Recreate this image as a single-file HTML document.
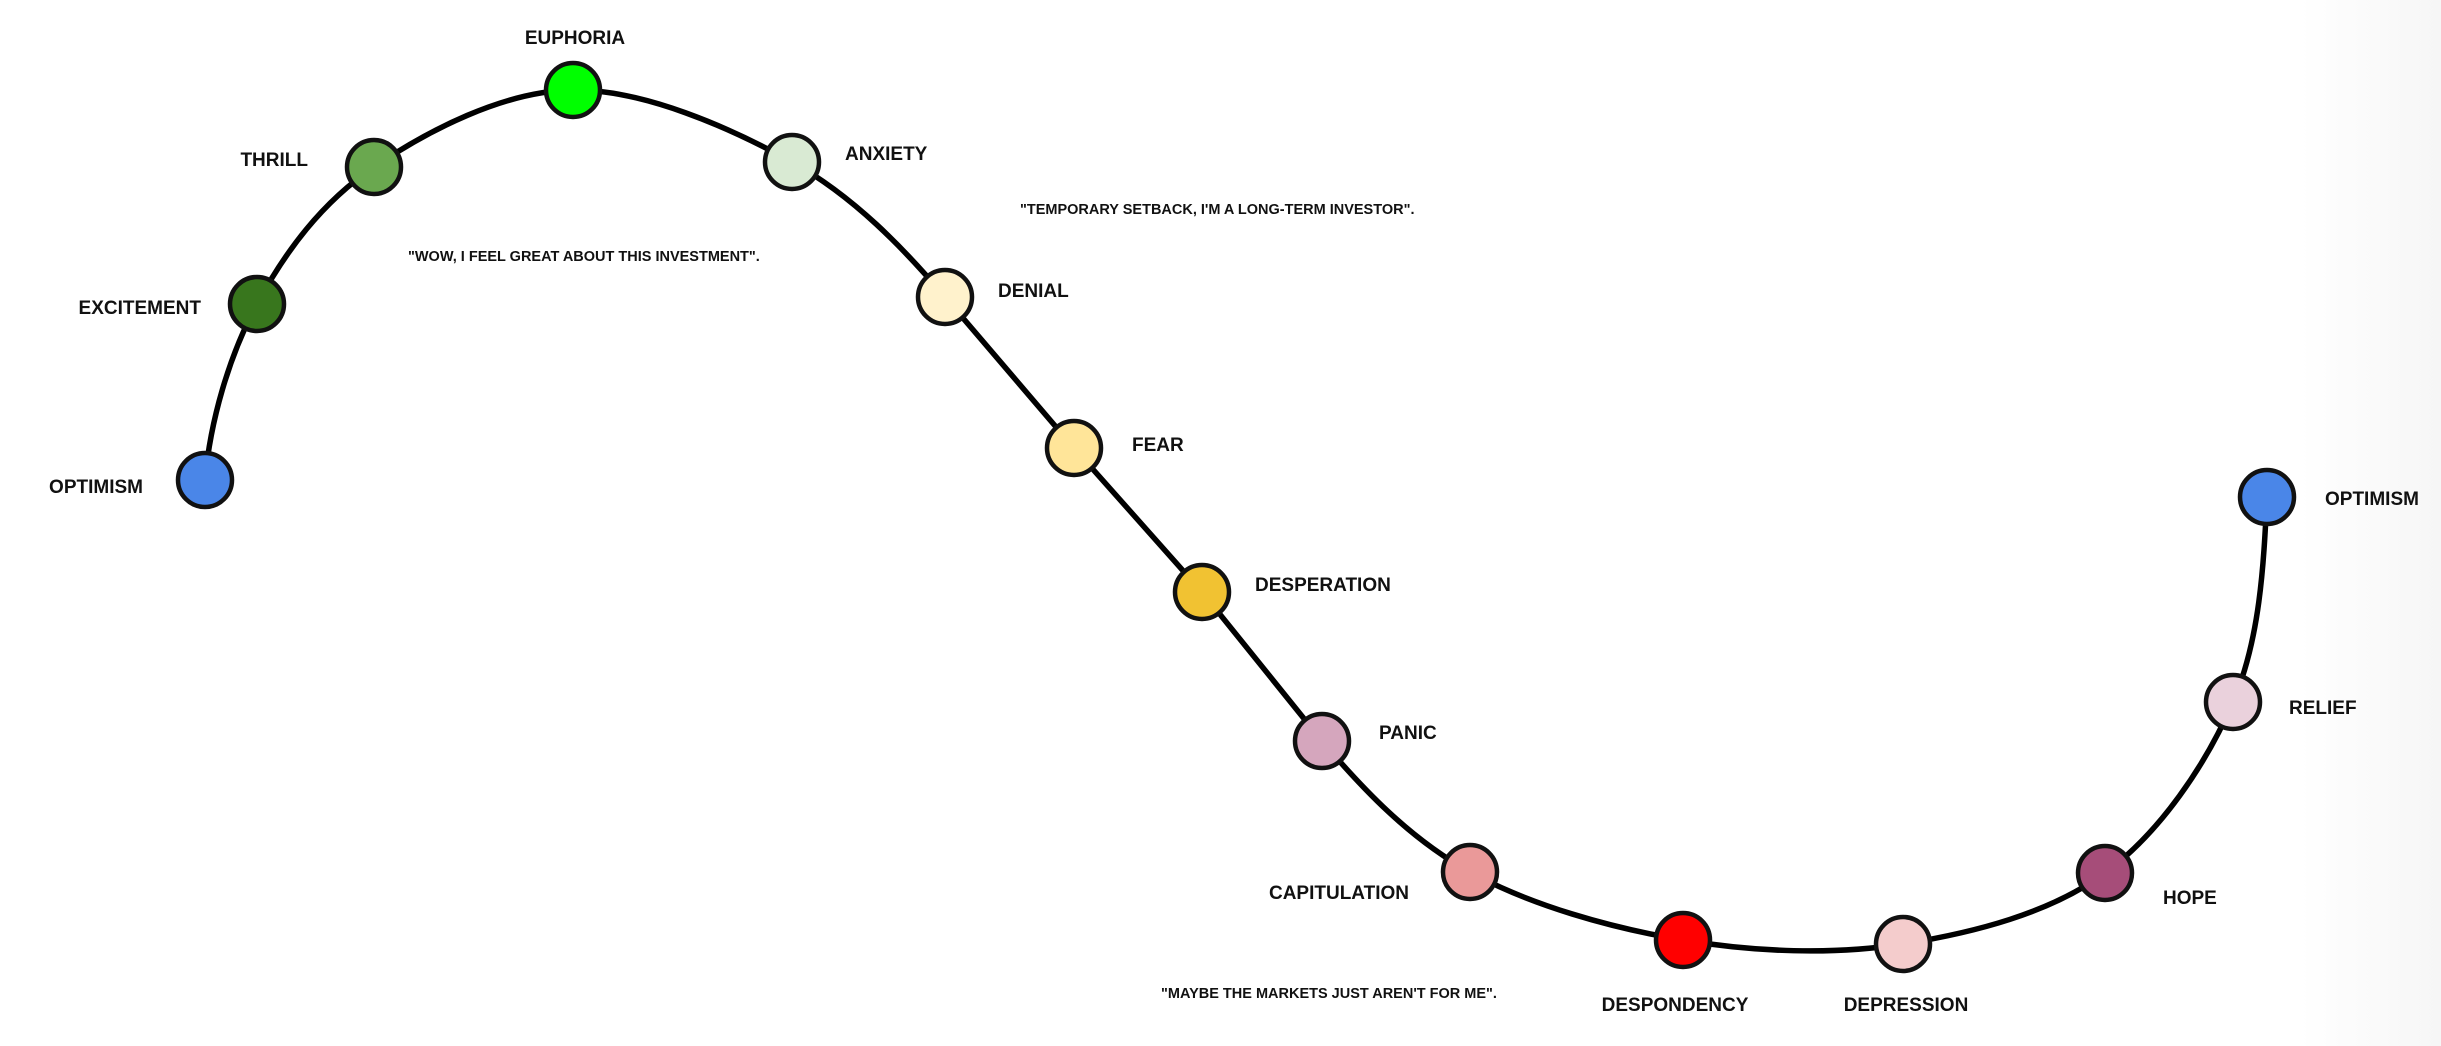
<!DOCTYPE html>
<html><head><meta charset="utf-8"><style>
html,body{margin:0;padding:0;background:#fff;}
body{width:2441px;height:1046px;overflow:hidden;position:relative;background:linear-gradient(90deg,#fff 0,#fff 2300px,#f6f6f6 2441px);}
svg{position:absolute;left:0;top:0;}
text{font-family:"Liberation Sans",sans-serif;font-weight:bold;fill:#111;}
.l{font-size:19px;}
.q{font-size:14.5px;}
</style></head><body>
<svg width="2441" height="1046" viewBox="0 0 2441 1046">
<path id="curve" d="" fill="none" stroke="#000" stroke-width="5.5" stroke-linecap="round"/>
<g id="nodes" stroke="#111" stroke-width="4.5"></g>
<text class="l" x="575" y="44" text-anchor="middle">EUPHORIA</text>
<text class="l" x="308" y="166" text-anchor="end">THRILL</text>
<text class="l" x="201" y="314" text-anchor="end">EXCITEMENT</text>
<text class="l" x="143" y="493" text-anchor="end">OPTIMISM</text>
<text class="l" x="845" y="160">ANXIETY</text>
<text class="l" x="998" y="297">DENIAL</text>
<text class="l" x="1132" y="451">FEAR</text>
<text class="l" x="1255" y="591">DESPERATION</text>
<text class="l" x="1379" y="739">PANIC</text>
<text class="l" x="1409" y="899" text-anchor="end">CAPITULATION</text>
<text class="l" x="1675" y="1011" text-anchor="middle">DESPONDENCY</text>
<text class="l" x="1906" y="1011" text-anchor="middle">DEPRESSION</text>
<text class="l" x="2163" y="904">HOPE</text>
<text class="l" x="2289" y="714">RELIEF</text>
<text class="l" x="2325" y="505">OPTIMISM</text>
<text class="q" x="408" y="261">"WOW, I FEEL GREAT ABOUT THIS INVESTMENT".</text>
<text class="q" x="1020" y="214">"TEMPORARY SETBACK, I'M A LONG-TERM INVESTOR".</text>
<text class="q" x="1161" y="998">"MAYBE THE MARKETS JUST AREN'T FOR ME".</text>
</svg>
<script>
var P=[[205,480,"#4a86e8"],[257,304,"#38761d"],[374,167,"#6aa84f"],[573,90,"#00ff00"],[792,162,"#d9ead3"],[945,297,"#fff2cc"],[1074,448,"#ffe599"],[1202,592,"#f1c232"],[1322,741,"#d5a6bd"],[1470,872,"#ea9999"],[1683,940,"#ff0000"],[1903,944,"#f4cccc"],[2105,873,"#a64d79"],[2233,702,"#ead1dc"],[2267,497,"#4a86e8"]];
var n=P.length,T=[];
for(var i=0;i<n;i++){
 var a=P[Math.max(i-1,0)],b=P[Math.min(i+1,n-1)];
 T.push([(b[0]-a[0])/2,(b[1]-a[1])/2]);
}
// straight section denial..panic
var dx=P[8][0]-P[5][0],dy=P[8][1]-P[5][1],L=Math.hypot(dx,dy);
for(var i=5;i<=8;i++){T[i]=[dx/L*190,dy/L*190];}
T[0]=[(P[1][0]-P[0][0])*0.3,(P[1][1]-P[0][1])];
T[n-1]=[(P[n-1][0]-P[n-2][0])*0.3,(P[n-1][1]-P[n-2][1])];
var d="M"+P[0][0]+","+P[0][1];
for(var i=0;i<n-1;i++){
 var p1=P[i],p2=P[i+1];
 if(i>=5&&i<8){d+=" L"+p2[0]+","+p2[1];continue;}
 d+=" C"+(p1[0]+T[i][0]/3)+","+(p1[1]+T[i][1]/3)+" "+(p2[0]-T[i+1][0]/3)+","+(p2[1]-T[i+1][1]/3)+" "+p2[0]+","+p2[1];
}
document.getElementById("curve").setAttribute("d",d);
var s="";
P.forEach(function(p){s+='<circle cx="'+p[0]+'" cy="'+p[1]+'" r="27" fill="'+p[2]+'"/>';});
document.getElementById("nodes").innerHTML=s;
</script>
</body></html>
